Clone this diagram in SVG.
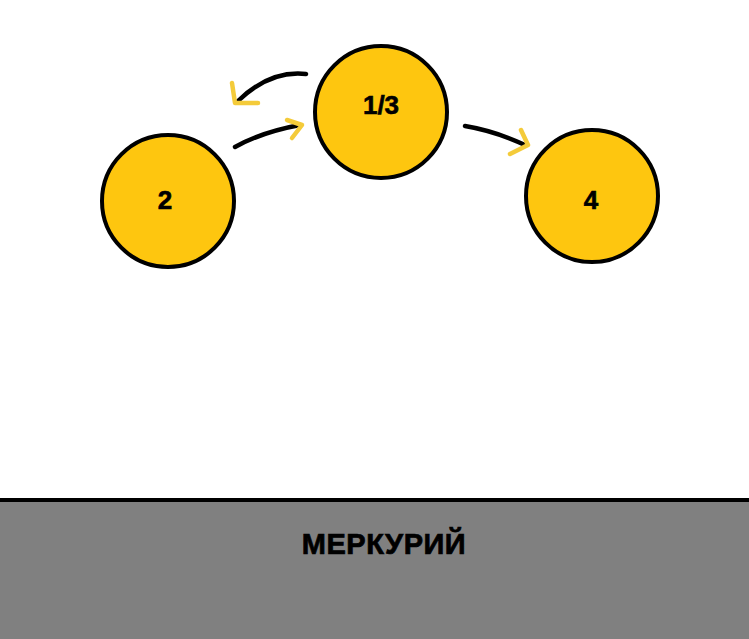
<svg xmlns="http://www.w3.org/2000/svg" width="749" height="639" viewBox="0 0 749 639">
<style>
.node{fill:#FEC60F;stroke:#000;stroke-width:4}
.lbl{font-family:"Liberation Sans",Arial,sans-serif;font-weight:bold;font-size:26px;fill:#000;text-anchor:middle;stroke:#000;stroke-width:0.6}
.conn{fill:none;stroke:#000;stroke-width:4.5;stroke-linecap:round}
.head{fill:none;stroke:#F4CB3A;stroke-width:4.5;stroke-linecap:round;stroke-linejoin:round}
</style>
<rect x="0" y="0" width="749" height="639" fill="#fff"/>
<g id="ground">
<rect x="0" y="500" width="749" height="139" fill="#808080"/>
<line x1="0" y1="500" x2="749" y2="500" stroke="#000" stroke-width="4"/>
<text x="384" y="554" style="font-family:'Liberation Sans',Arial,sans-serif;font-weight:bold;font-size:29px;fill:#000;text-anchor:middle;stroke:#000;stroke-width:0.7;letter-spacing:0.5px">МЕРКУРИЙ</text>
</g>
<g id="connectors">
<path class="conn" d="M306,74 Q270,70 238,101"/>
<path class="head" d="M232,83 L235,103 L258,103"/>
<path class="conn" d="M235,147 Q262,132 300,125"/>
<path class="head" d="M287,120 L302,125 L292,138"/>
<path class="conn" d="M465,126 Q495,131 525,145"/>
<path class="head" d="M521,130 L528,145 L510,154"/>
</g>
<g id="node-2">
<circle class="node" cx="168" cy="201" r="66"/>
<text class="lbl" x="165" y="209">2</text>
</g>
<g id="node-1-3">
<circle class="node" cx="381" cy="112" r="66"/>
<text class="lbl" x="381" y="114">1/3</text>
</g>
<g id="node-4">
<circle class="node" cx="592" cy="196" r="66"/>
<text class="lbl" x="591" y="209">4</text>
</g>
</svg>
